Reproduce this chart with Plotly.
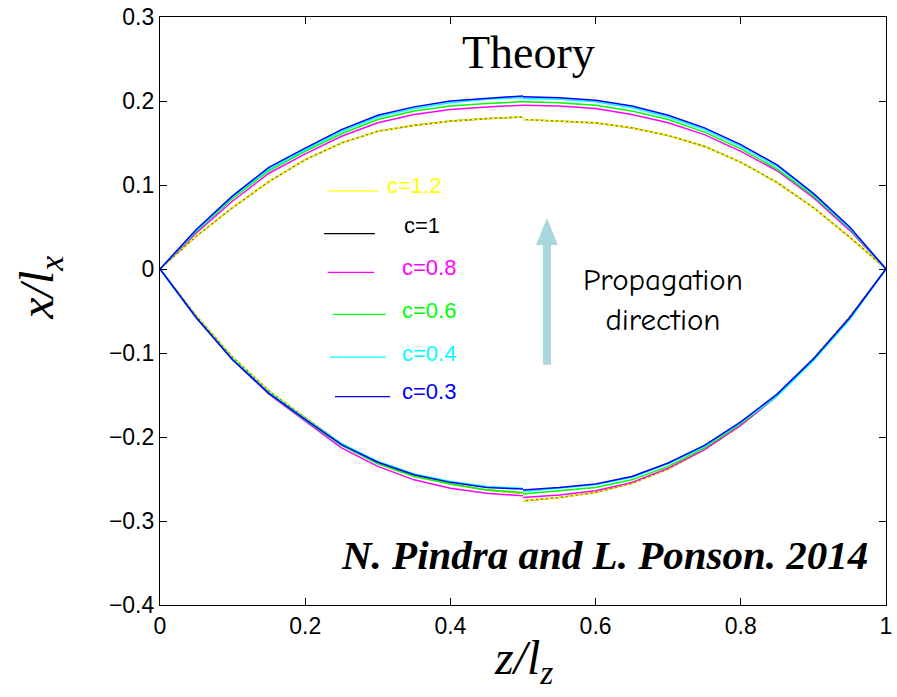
import plotly.graph_objects as go

# Grid along the crack front, split at the midpoint z/lz = 0.5
z_left = [0, 0.05, 0.10, 0.15, 0.20, 0.25, 0.30, 0.35, 0.40, 0.45, 0.50]
z_right = [0.50, 0.55, 0.60, 0.65, 0.70, 0.75, 0.80, 0.85, 0.90, 0.95, 1.0]

series_labels = ["c=1.2", "c=1", "c=0.8", "c=0.6", "c=0.4", "c=0.3"]
series_colors = ["#ffff00", "#000000", "#ff00ff", "#00ff00", "#00ffff", "#0000ff"]

# Upper branch, left half
upper_left = {
    "c=1.2": [0, 0.039, 0.073, 0.104, 0.130, 0.150, 0.164, 0.171, 0.176, 0.179, 0.181],
    "c=1":   [0, 0.039, 0.073, 0.104, 0.130, 0.150, 0.164, 0.171, 0.176, 0.179, 0.181],
    "c=0.8": [0, 0.043, 0.081, 0.114, 0.137, 0.158, 0.174, 0.184, 0.190, 0.193, 0.195],
    "c=0.6": [0, 0.045, 0.084, 0.117, 0.140, 0.161, 0.178, 0.188, 0.194, 0.197, 0.199],
    "c=0.4": [0, 0.046, 0.086, 0.119, 0.142, 0.164, 0.181, 0.191, 0.198, 0.202, 0.204],
    "c=0.3": [0, 0.047, 0.087, 0.121, 0.144, 0.166, 0.183, 0.193, 0.200, 0.203, 0.206],
}
# Upper branch, right half
upper_right = {
    "c=1.2": [0.178, 0.176, 0.174, 0.168, 0.159, 0.146, 0.127, 0.103, 0.073, 0.038, 0],
    "c=1":   [0.178, 0.176, 0.174, 0.168, 0.159, 0.146, 0.127, 0.103, 0.073, 0.038, 0],
    "c=0.8": [0.195, 0.194, 0.191, 0.184, 0.174, 0.160, 0.140, 0.117, 0.085, 0.046, 0],
    "c=0.6": [0.199, 0.198, 0.195, 0.188, 0.178, 0.163, 0.143, 0.119, 0.087, 0.048, 0],
    "c=0.4": [0.203, 0.202, 0.199, 0.192, 0.181, 0.166, 0.146, 0.122, 0.089, 0.049, 0],
    "c=0.3": [0.205, 0.204, 0.201, 0.194, 0.183, 0.168, 0.148, 0.124, 0.090, 0.050, 0],
}
# Lower branch, left half
lower_left = {
    "c=1.2": [0, -0.056, -0.105, -0.145, -0.177, -0.208, -0.230, -0.246, -0.256, -0.263, -0.267],
    "c=1":   [0, -0.056, -0.105, -0.145, -0.177, -0.208, -0.230, -0.246, -0.256, -0.263, -0.267],
    "c=0.8": [0, -0.058, -0.108, -0.149, -0.181, -0.213, -0.235, -0.251, -0.261, -0.267, -0.270],
    "c=0.6": [0, -0.058, -0.108, -0.148, -0.180, -0.210, -0.232, -0.247, -0.256, -0.263, -0.266],
    "c=0.4": [0, -0.058, -0.107, -0.147, -0.178, -0.208, -0.229, -0.244, -0.253, -0.259, -0.261],
    "c=0.3": [0, -0.058, -0.108, -0.148, -0.179, -0.209, -0.230, -0.245, -0.254, -0.260, -0.262],
}
# Lower branch, right half
lower_right = {
    "c=1.2": [-0.276, -0.272, -0.266, -0.255, -0.238, -0.215, -0.186, -0.151, -0.107, -0.057, 0],
    "c=1":   [-0.276, -0.272, -0.266, -0.255, -0.238, -0.215, -0.186, -0.151, -0.107, -0.057, 0],
    "c=0.8": [-0.272, -0.269, -0.264, -0.254, -0.237, -0.215, -0.186, -0.151, -0.108, -0.058, 0],
    "c=0.6": [-0.268, -0.264, -0.260, -0.251, -0.235, -0.213, -0.184, -0.151, -0.109, -0.060, 0],
    "c=0.4": [-0.265, -0.261, -0.257, -0.248, -0.232, -0.211, -0.183, -0.151, -0.109, -0.060, 0],
    "c=0.3": [-0.263, -0.260, -0.256, -0.247, -0.231, -0.210, -0.182, -0.149, -0.107, -0.058, 0],
}

x_ticks = [0, 0.2, 0.4, 0.6, 0.8, 1]
y_ticks = [-0.4, -0.3, -0.2, -0.1, 0, 0.1, 0.2, 0.3]

# Hand-placed key: line start/end (z) and y, label anchor (z, y)
key_line_x0 = [0.232, 0.226, 0.231, 0.238, 0.234, 0.241]
key_line_x1 = [0.300, 0.296, 0.295, 0.311, 0.311, 0.317]
key_line_y = [0.093, 0.042, -0.004, -0.054, -0.105, -0.152]
key_text_x = [0.310, 0.333, 0.331, 0.331, 0.331, 0.331]
key_text_y = [0.099, 0.052, 0.002, -0.049, -0.100, -0.146]

fig = go.Figure()

# Draw each series: both branches, each with a break at the midpoint
draw_order = ["c=1", "c=1.2", "c=0.8", "c=0.6", "c=0.4", "c=0.3"]
for lab in draw_order:
    col = series_colors[series_labels.index(lab)]
    zs = z_left + [None] + z_right + [None] + z_left + [None] + z_right
    ys = (upper_left[lab] + [None] + upper_right[lab] + [None]
          + lower_left[lab] + [None] + lower_right[lab])
    if lab == "c=1.2":
        line = dict(color=col, width=1.6, dash="3px,2px")
    elif lab == "c=1":
        line = dict(color="#8a8400", width=1.6)
    else:
        line = dict(color=col, width=1.5)
    fig.add_trace(go.Scatter(x=zs, y=ys, mode="lines", line=line,
                             name=lab, showlegend=False, hoverinfo="skip"))

shapes = []
annotations = []

# Key entries
for i, lab in enumerate(series_labels):
    col = series_colors[i]
    shapes.append(dict(type="line", xref="x", yref="y",
                       x0=key_line_x0[i], x1=key_line_x1[i],
                       y0=key_line_y[i], y1=key_line_y[i],
                       line=dict(color=col, width=1.3)))
    annotations.append(dict(x=key_text_x[i], y=key_text_y[i], xref="x", yref="y",
                            text=lab, showarrow=False, xanchor="left", yanchor="middle",
                            font=dict(family="Liberation Sans, Arial, sans-serif",
                                      size=22, color=col)))

# Propagation arrow (shaft + head)
arrow_col = "#a9d8dc"
shapes.append(dict(type="path", xref="x", yref="y",
                   path="M 0.5275 -0.114 L 0.5386 -0.114 L 0.5386 0.0286 L 0.548 0.0286 "
                        "L 0.533 0.0607 L 0.518 0.0286 L 0.5275 0.0286 Z",
                   fillcolor=arrow_col, line=dict(width=0)))

annotations += [
    dict(x=0.507, y=0.258, xref="x", yref="y", text="Theory", showarrow=False,
         font=dict(family="Liberation Serif, Times New Roman, serif", size=46, color="black")),
    dict(x=0.693, y=-0.037, xref="x", yref="y", text="Propagation<br>direction",
         showarrow=False, align="center",
         font=dict(family="Comic Sans MS, Comic Neue, Lato, sans-serif", size=31, color="black")),
    dict(x=0.978, y=-0.3405, xref="x", yref="y", xanchor="right",
         text="<b><i>N. Pindra and L. Ponson. 2014</i></b>", showarrow=False,
         font=dict(family="Liberation Serif, Times New Roman, serif", size=41, color="black")),
    # axis titles
    dict(x=0.5, y=-0.095, xref="paper", yref="paper", yanchor="middle",
         text="<i>z/l<sub>z</sub></i>", showarrow=False,
         font=dict(family="Liberation Serif, Times New Roman, serif", size=48, color="black")),
    dict(x=-0.165, y=0.54, xref="paper", yref="paper", xanchor="center", yanchor="middle",
         text="<i>x/l<sub>x</sub></i>", showarrow=False, textangle=-90,
         font=dict(family="Liberation Serif, Times New Roman, serif", size=48, color="black")),
]

axis_common = dict(showgrid=False, zeroline=False, showline=True, linecolor="black",
                   linewidth=1.2, mirror="ticks", ticks="inside", ticklen=7,
                   tickcolor="black", tickwidth=1, automargin=False)

fig.update_layout(
    width=897, height=697,
    margin=dict(l=160, r=11, t=17, b=92, autoexpand=False),
    paper_bgcolor="white", plot_bgcolor="white",
    showlegend=False,
    shapes=shapes, annotations=annotations,
    xaxis=dict(range=[0, 1], tickvals=x_ticks,
               ticktext=[f"{v:g}" for v in x_ticks],
               tickfont=dict(family="Liberation Sans, Arial, sans-serif", size=23, color="black"),
               **axis_common),
    yaxis=dict(range=[-0.4, 0.3], tickvals=y_ticks,
               ticktext=[("\u2212" + f"{abs(v):g}") if v < 0 else f"{v:g}" for v in y_ticks],
               tickfont=dict(family="Liberation Sans, Arial, sans-serif", size=23, color="black"),
               **axis_common),
)

fig.write_html("out.html")
